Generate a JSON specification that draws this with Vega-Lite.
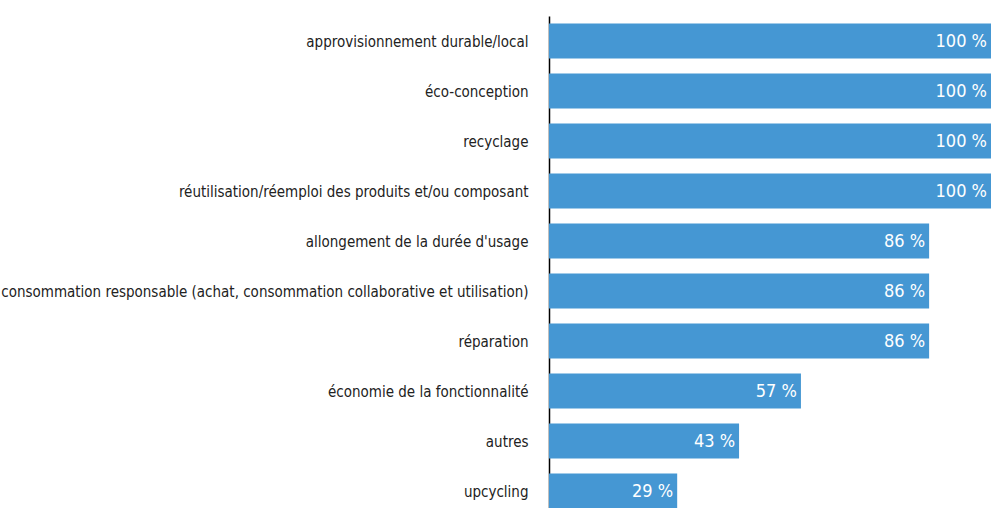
{
  "$schema": "https://vega.github.io/schema/vega-lite/v6.json",
  "width": 442,
  "height": 500,
  "padding": {"left": 549, "top": 16, "right": 0, "bottom": 0},
  "autosize": {"type": "none"},
  "background": "white",
  "config": {"view": {"stroke": null}, "font": "DejaVu Sans Condensed"},
  "data": {"values": [
    {"cat": "approvisionnement durable/local", "v": 100, "label": "100 %"},
    {"cat": "éco-conception", "v": 100, "label": "100 %"},
    {"cat": "recyclage", "v": 100, "label": "100 %"},
    {"cat": "réutilisation/réemploi des produits et/ou composant", "v": 100, "label": "100 %"},
    {"cat": "allongement de la durée d'usage", "v": 86, "label": "86 %"},
    {"cat": "consommation responsable (achat, consommation collaborative et utilisation)", "v": 86, "label": "86 %"},
    {"cat": "réparation", "v": 86, "label": "86 %"},
    {"cat": "économie de la fonctionnalité", "v": 57, "label": "57 %"},
    {"cat": "autres", "v": 43, "label": "43 %"},
    {"cat": "upcycling", "v": 29, "label": "29 %"}
  ]},
  "encoding": {
    "y": {"field": "cat", "type": "nominal", "sort": null,
      "scale": {"paddingInner": 0.3, "paddingOuter": 0.15},
      "axis": {"title": null, "ticks": false, "labelFontSize": 15, "labelColor": "#222", "labelPadding": 21, "labelOffset": 1, "domainColor": "#000", "domainWidth": 1.5, "labelLimit": 600, "labelFont": "DejaVu Sans Condensed"}},
    "x": {"field": "v", "type": "quantitative", "scale": {"domain": [0, 100]}, "axis": null}
  },
  "layer": [
    {"mark": {"type": "bar", "color": "#4597d3"}},
    {"mark": {"type": "text", "align": "right", "dx": -4, "dy": 1, "color": "white", "fontSize": 18, "font": "DejaVu Sans Condensed"},
     "encoding": {"text": {"field": "label", "type": "nominal"}}}
  ]
}
